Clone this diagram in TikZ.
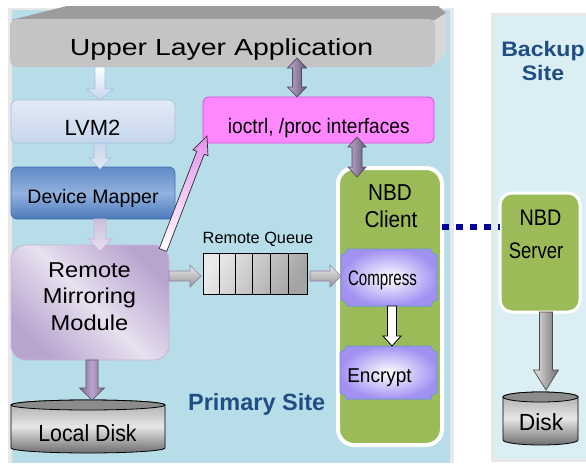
\documentclass[tikz,border=0pt]{standalone}
\usepackage{fontspec}
\setmainfont{Liberation Sans}
\usepackage{graphicx}
\usetikzlibrary{calc}

\definecolor{primarybg}{HTML}{B7DDE8}
\definecolor{backupbg}{HTML}{DBEEF3}
\definecolor{framegray}{HTML}{E8E8E8}
\definecolor{uppertop}{HTML}{9C9C9C}
\definecolor{upperside}{HTML}{D8D8D8}
\definecolor{upperfront}{HTML}{C4C4C4}
\definecolor{lvmA}{HTML}{E2EAF5}
\definecolor{lvmB}{HTML}{C6D6EC}
\definecolor{lvmedge}{HTML}{A8C0E0}
\definecolor{dmA}{HTML}{5E8BC6}
\definecolor{dmM}{HTML}{92B1DE}
\definecolor{dmB}{HTML}{4C7BBB}
\definecolor{dmedge}{HTML}{4371B0}
\definecolor{rmmA}{HTML}{B9A3CF}
\definecolor{rmmM}{HTML}{E7E1EF}
\definecolor{rmmedge}{HTML}{C6B4D8}
\definecolor{ioctlfill}{HTML}{FF88FF}
\definecolor{ioctledge}{HTML}{D94AD9}
\definecolor{nbdgreen}{HTML}{9BBB59}
\definecolor{plaquepurple}{HTML}{A391F2}
\definecolor{plaqueedge}{HTML}{6F9AD6}
\definecolor{qA}{HTML}{EAEAEA}
\definecolor{qB}{HTML}{A4A4A4}
\definecolor{diskA}{HTML}{A8A8A8}
\definecolor{diskB}{HTML}{E6E6E6}
\definecolor{diskC}{HTML}{6E6E6E}
\definecolor{disklid}{HTML}{8C8C8C}
\definecolor{linkblue}{HTML}{00009C}
\definecolor{siteblue}{HTML}{1F4E84}

% text helper: size, horizontal scale, text
\newcommand\txt[3]{\fontsize{#1}{#1}\selectfont\scalebox{#2}[1]{#3}}

% block arrow: style, from, to, half shaft, half head, head length
\newcommand\blockarrow[6]{%
  \path[#1] ($(#2)!#4pt!90:(#3)$)
    -- ($(#3)!#6pt!(#2)!#4pt!-90:(#2)$)
    -- ($(#3)!#6pt!(#2)!#5pt!-90:(#2)$)
    -- (#3)
    -- ($(#3)!#6pt!(#2)!#5pt!90:(#2)$)
    -- ($(#3)!#6pt!(#2)!#4pt!90:(#2)$)
    -- ($(#2)!#4pt!-90:(#3)$) -- cycle;}

% double-headed block arrow: style, end A, end B, half shaft, half head, head length
\newcommand\dblarrow[6]{%
  \path[#1] (#2)
    -- ($(#2)!#6pt!(#3)!#5pt!-90:(#3)$)
    -- ($(#2)!#6pt!(#3)!#4pt!-90:(#3)$)
    -- ($(#3)!#6pt!(#2)!#4pt!90:(#2)$)
    -- ($(#3)!#6pt!(#2)!#5pt!90:(#2)$)
    -- (#3)
    -- ($(#3)!#6pt!(#2)!#5pt!-90:(#2)$)
    -- ($(#3)!#6pt!(#2)!#4pt!-90:(#2)$)
    -- ($(#2)!#6pt!(#3)!#4pt!90:(#3)$)
    -- ($(#2)!#6pt!(#3)!#5pt!90:(#3)$) -- cycle;}

% disk cylinder drawn over a node's box: node, lid half height
\newcommand\drawdisk[2]{%
  \path[diskbody] let \p1=(#1.north west), \p2=(#1.south east) in
    (\x1,\y1-#2pt) -- (\x1,\y2+#2pt)
    arc[start angle=180, end angle=360, x radius={(\x2-\x1)/2}, y radius=#2pt]
    -- (\x2,\y1-#2pt)
    arc[start angle=0, end angle=180, x radius={(\x2-\x1)/2}, y radius=#2pt] -- cycle;
  \path[disktop] let \p1=(#1.north west), \p2=(#1.south east) in
    ({(\x1+\x2)/2},{\y1-#2pt}) ellipse[x radius={(\x2-\x1)/2}, y radius=#2pt];}

% box with concave corners: node, corner radius
\newcommand\drawplaque[2]{%
  \path[plaque] let \p1=(#1.north west), \p2=(#1.south east) in
    (\x1+#2pt,\y1) -- (\x2-#2pt,\y1)
    arc[start angle=180, end angle=270, radius=#2pt] -- (\x2,\y2+#2pt)
    arc[start angle=90, end angle=180, radius=#2pt] -- (\x1+#2pt,\y2)
    arc[start angle=0, end angle=90, radius=#2pt] -- (\x1,\y1-#2pt)
    arc[start angle=270, end angle=360, radius=#2pt] -- cycle;}

\begin{document}
\begin{tikzpicture}[x=1pt,y=-1pt,
  boxnode/.style={inner sep=0pt, outer sep=0pt},
  lbl/.style={inner sep=0pt, anchor=base, text=black},
  sitelbl/.style={inner sep=0pt, anchor=base, text=siteblue, font=\bfseries},
  diskbody/.style={draw=black, line width=0.8pt, top color=diskA, bottom color=diskC, middle color=diskB},
  disktop/.style={draw=black, line width=0.8pt, fill=disklid},
  plaque/.style={draw=plaqueedge, line width=1pt, inner color=white, outer color=plaquepurple},
  arrLight/.style={draw=lvmedge, line width=0.7pt, top color=white, bottom color=lvmB},
  arrLvm/.style={draw=lvmedge, line width=0.7pt, top color=lvmB, bottom color=lvmA},
  arrLav/.style={draw=rmmedge, line width=0.7pt, top color=rmmA!70, bottom color=rmmM},
  arrPurple/.style={draw=rmmA!50!black, line width=0.7pt, left color=rmmA!60!black!90, right color=rmmA!60!black!90, middle color=rmmA},
  arrGray/.style={draw=rmmA!80!black, line width=0.7pt, top color=qA, bottom color=qB!90!black},
  arrDbl/.style={draw=rmmA!45!black, line width=0.7pt, left color=rmmA!90, right color=rmmA!55!black},
  arrDiag/.style={draw=rmmA!25!black, line width=0.7pt, top color=ioctlfill!60!rmmA, bottom color=white},
  arrWhite/.style={draw=black, line width=0.8pt, fill=white},
  arrServer/.style={draw=black!70, line width=0.7pt, left color=diskB, right color=diskC},
  netlink/.style={draw=linkblue, line width=6pt, dash pattern=on 6.5pt off 7.5pt}]

\useasboundingbox (0,0) rectangle (586,463);
\fill[white] (0,0) rectangle (586,463);

% site backgrounds
\fill[framegray] (8,8) rectangle (454,463);
\fill[primarybg] (12,10) rectangle (450,463);
\fill[framegray] (491,13) rectangle (586,462);
\fill[backupbg] (494,16) rectangle (586,459);

% upper layer application slab
\fill[uppertop] (11,20) -- (67,6) -- (438,6) -- (446,13) -- (435,20) -- cycle;
\fill[upperside] (435,20) -- (446,13) -- (446,52) -- (434,66) -- cycle;
\node[boxnode, fill=upperfront, rounded corners=7, minimum width=425, minimum height=48] (upper) at (222.5,43) {};

% primary site blocks
\node[boxnode, draw=lvmedge, line width=0.8pt, rounded corners=6, top color=lvmA, bottom color=lvmB,
  minimum width=164, minimum height=43] (lvm) at (93,121.5) {};
\node[boxnode, draw=dmedge, line width=0.8pt, rounded corners=6, top color=dmA, bottom color=dmB, middle color=dmM,
  minimum width=164, minimum height=52] (dm) at (93,193) {};
\node[boxnode, draw=rmmedge, line width=0.8pt, rounded corners=15, left color=rmmA, right color=rmmA, middle color=rmmM,
  shading angle=135, minimum width=158, minimum height=115] (rmm) at (90,302.5) {};
\node[boxnode, minimum width=154, minimum height=53] (ldisk) at (88,426.5) {};
\drawdisk{ldisk}{5}
\node[boxnode, draw=ioctledge, line width=0.8pt, rounded corners=6, fill=ioctlfill,
  minimum width=231, minimum height=46] (ioctl) at (318.5,120) {};
\node[boxnode, draw=black, line width=0.8pt, left color=qA, right color=qB, shading angle=60,
  minimum width=104, minimum height=41] (queue) at (255,273.5) {};
\foreach \f in {0.154,0.308,0.471,0.644,0.817}
  \draw[line width=0.6pt] ($(queue.north west)!\f!(queue.north east)$) -- ($(queue.south west)!\f!(queue.south east)$);

% NBD client with its stages
\node[boxnode, draw=white, line width=4pt, fill=nbdgreen, rounded corners=16,
  minimum width=104, minimum height=277] (client) at (390,306.5) {};
\node[boxnode, minimum width=96, minimum height=57] (compress) at (389,277.5) {};
\drawplaque{compress}{6}
\node[boxnode, minimum width=97, minimum height=53] (encrypt) at (388.5,372.5) {};
\drawplaque{encrypt}{6}

% backup site blocks
\node[boxnode, draw=white, line width=3pt, fill=nbdgreen, rounded corners=12,
  minimum width=80, minimum height=119] (server) at (540,252.5) {};
\node[boxnode, minimum width=75, minimum height=53] (disk) at (540.5,418.5) {};
\drawdisk{disk}{5}

% network link
\coordinate (link) at (470,227);
\draw[netlink] (client.east |- link) -- (server.west |- link);

% arrow guide coordinates
\coordinate (ax) at (100,0);
\coordinate (bx) at (92,0);
\coordinate (qy) at (0,276);
\coordinate (px) at (297,0);
\coordinate (cx) at (357,0);
\coordinate (ex) at (392,0);
\coordinate (sx) at (546,0);
\coordinate (a1s) at (upper.south -| ax);
\coordinate (a1e) at (lvm.north -| ax);
\coordinate (a2s) at (lvm.south -| ax);
\coordinate (a2e) at ($(dm.north -| ax)+(0,2)$);
\coordinate (a3s) at (dm.south -| ax);
\coordinate (a3e) at ($(rmm.north -| ax)+(0,6)$);
\coordinate (a4s) at (rmm.south -| bx);
\coordinate (a4e) at (ldisk.north -| bx);
\coordinate (a5s) at (rmm.east |- qy);
\coordinate (a5e) at ($(queue.west |- qy)+(-2,0)$);
\coordinate (a6s) at ($(queue.east |- qy)+(3,0)$);
\coordinate (a6e) at (compress.west |- qy);
\coordinate (a7s) at ($(rmm.north east)+(-6,5)$);
\coordinate (a7e) at ($(ioctl.south west)+(4,-7)$);
\coordinate (a8s) at ($(upper.south -| px)+(0,-9)$);
\coordinate (a8e) at (ioctl.north -| px);
\coordinate (a9s) at ($(ioctl.south -| cx)+(0,-6)$);
\coordinate (a9e) at ($(client.north -| cx)+(0,9)$);
\coordinate (a10s) at (compress.south -| ex);
\coordinate (a10e) at (encrypt.north -| ex);
\coordinate (a11s) at (server.south -| sx);
\coordinate (a11e) at ($(disk.north -| sx)+(0,-2)$);

% block arrows
\blockarrow{arrLight}{a1s}{a1e}{5}{13}{11}
\blockarrow{arrLvm}{a2s}{a2e}{6}{11}{11}
\blockarrow{arrLav}{a3s}{a3e}{6}{12}{12}
\blockarrow{arrPurple}{a4s}{a4e}{6}{12.5}{12}
\blockarrow{arrGray}{a5s}{a5e}{5}{11}{11}
\blockarrow{arrGray}{a6s}{a6e}{5}{11}{11}
\blockarrow{arrDiag}{a7s}{a7e}{4}{8}{18}
\dblarrow{arrDbl}{a8s}{a8e}{4.5}{9.5}{10}
\dblarrow{arrDbl}{a9s}{a9e}{5}{9}{10}
\blockarrow{arrWhite}{a10s}{a10e}{4.5}{9}{10}
\blockarrow{arrServer}{a11s}{a11e}{6.5}{12.5}{20}

% labels
\node[lbl] (tUpper) at (221.5,55) {\txt{23.3}{1.22}{Upper Layer Application}};
\node[lbl] (tLvm) at (92.5,135) {\txt{22}{1}{LVM2}};
\node[lbl] (tDm) at (93,203.3) {\txt{19.5}{1}{Device Mapper}};
\node[lbl] (tRmm1) at (89.5,277.3) {\txt{21.5}{1.1}{Remote}};
\node[lbl] (tRmm2) at (89.5,303.8) {\txt{21.5}{1.1}{Mirroring}};
\node[lbl] (tRmm3) at (89.5,330) {\txt{21.5}{1.1}{Module}};
\node[lbl] (tLdisk) at (87.5,441.7) {\txt{23.3}{0.915}{Local Disk}};
\node[lbl] (tIoctl) at (318.8,133.3) {\txt{21}{0.91}{ioctrl, /proc interfaces}};
\node[lbl] (tQueue) at (258,243.3) {\txt{16.3}{1}{Remote Queue}};
\node[lbl] (tClient1) at (390,200) {\txt{23}{0.9}{NBD}};
\node[lbl] (tClient2) at (391,227) {\txt{23}{0.9}{Client}};
\node[lbl] (tCompress) at (382.5,285) {\txt{21}{0.72}{Compress}};
\node[lbl] (tEncrypt) at (379.5,382.7) {\txt{20}{0.95}{Encrypt}};
\node[lbl] (tServer1) at (540.5,225) {\txt{22.5}{0.88}{NBD}};
\node[lbl] (tServer2) at (536,258) {\txt{22.5}{0.82}{Server}};
\node[lbl] (tDisk) at (541,430) {\txt{23.3}{0.98}{Disk}};
\node[sitelbl] (tBackup1) at (543,56.7) {\txt{21}{1.1}{Backup}};
\node[sitelbl] (tBackup2) at (543,80) {\txt{21}{1.1}{Site}};
\node[sitelbl] (tPrimary) at (256.7,410) {\txt{23.5}{1}{Primary Site}};
\end{tikzpicture}
\end{document}
